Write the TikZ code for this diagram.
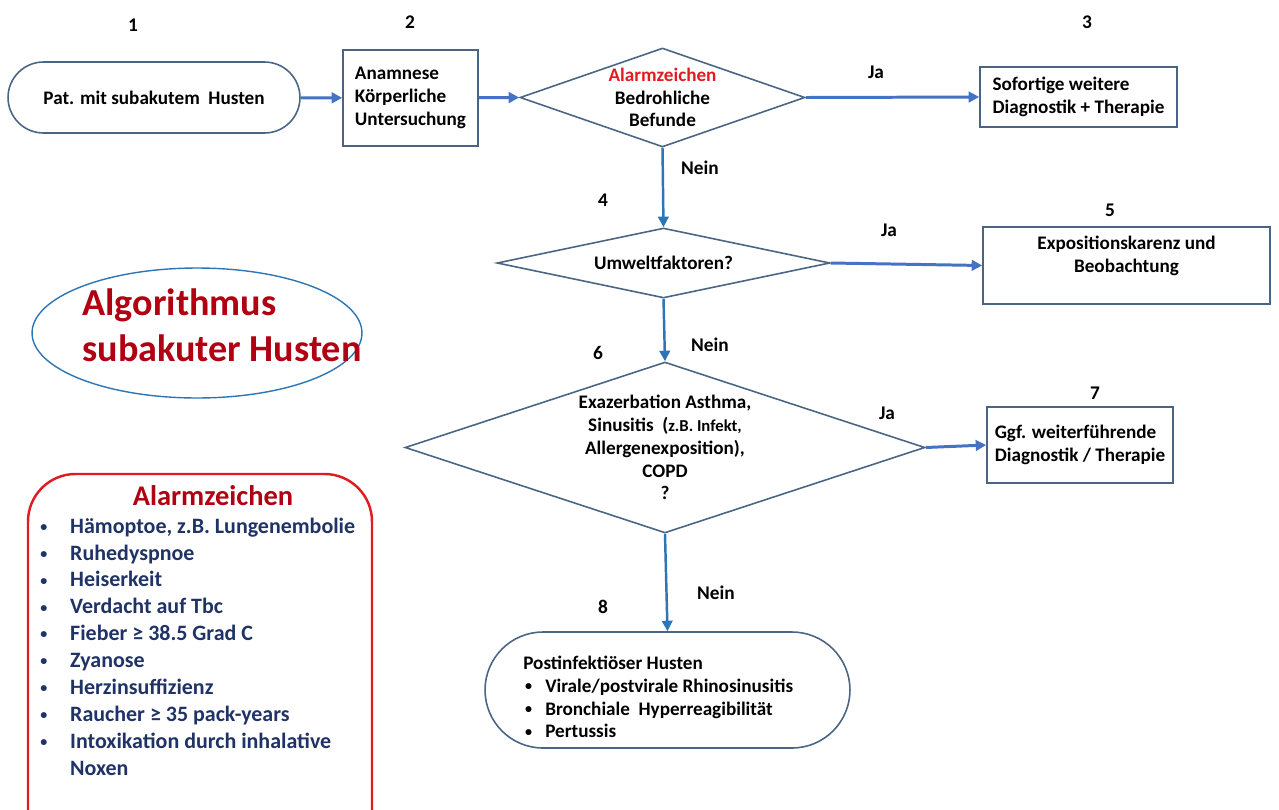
\documentclass[tikz,border=0pt]{standalone}
\usepackage{fontspec}
\setmainfont{Carlito}
\usepackage{tikz}
\usetikzlibrary{shapes.geometric,shapes.misc,arrows.meta}
\definecolor{frameblue}{HTML}{4A6584}
\definecolor{arrowblue}{HTML}{4472C4}
\definecolor{downblue}{HTML}{2E75B6}
\definecolor{titlered}{HTML}{B00012}
\definecolor{alarmred}{HTML}{E01B22}
\definecolor{listnavy}{HTML}{1F3366}
\newcommand{\smallbullet}{\raisebox{1pt}{\fontsize{8}{8}\selectfont\textbullet}}
\tikzset{
  box/.style={draw=frameblue, line width=0.9pt, rectangle, inner sep=0pt, font=\fontsize{10.9}{13}\selectfont\bfseries},
  startstop/.style={draw=frameblue, line width=0.9pt, rounded rectangle, inner sep=0pt, font=\fontsize{10.9}{13}\selectfont\bfseries},
  decision/.style={draw=frameblue, line width=0.9pt, diamond, inner sep=0pt},
  decisiontext/.style={align=center, inner sep=0pt, font=\fontsize{10.9}{13}\selectfont\bfseries},
  flow/.style={-{Triangle[length=6pt,width=6pt]}, draw=arrowblue, line width=1.7pt},
  flowdown/.style={-{Triangle[length=6pt,width=6pt]}, draw=downblue, line width=1.4pt},
  answer/.style={font=\fontsize{11}{13}\selectfont\bfseries},
  stepnum/.style={font=\fontsize{11}{13}\selectfont\bfseries}
}
\begin{document}
\begin{tikzpicture}[x=0.02cm, y=-0.02cm]
  \useasboundingbox (0,0) rectangle (1279,809);
  % step numbers
  \node[stepnum] (n1) at (133,25) {1};
  \node[stepnum] (n2) at (410,22) {2};
  \node[stepnum] (n3) at (1087,22) {3};
  \node[stepnum] (n4) at (603,200) {4};
  \node[stepnum] (n5) at (1110,210) {5};
  \node[stepnum] (n6) at (598,353) {6};
  \node[stepnum] (n7) at (1095,393) {7};
  \node[stepnum] (n8) at (603,607) {8};
  % main flow
  \node[startstop, minimum width=5.84cm, minimum height=1.42cm] (start) at (154,97.5) {Pat. mit subakutem\ \ Husten};
  \node[box, minimum width=2.7cm, minimum height=1.92cm, align=left] (exam) at (410.5,98) {Anamnese\\K\"orperliche\\Untersuchung};
  \node[decision, minimum width=5.7cm, minimum height=1.98cm] (alarm) at (662.5,97.5) {};
  \node[decisiontext] (alarmtext) at (alarm) {\textcolor{alarmred}{Alarmzeichen}\\Bedrohliche\\Befunde};
  \node[box, minimum width=3.94cm, minimum height=1.2cm, align=left] (urgent) at (1078.5,97) {Sofortige weitere\\Diagnostik + Therapie};
  \node[decision, minimum width=6.66cm, minimum height=1.4cm] (environ) at (663.5,263) {};
  \node[decisiontext] (environtext) at (environ) {Umweltfaktoren?};
  \node[box, minimum width=5.74cm, minimum height=1.54cm] (avoid) at (1126.5,265.5) {};
  \node[decisiontext] (avoidtext) at (1126.5,256) {Expositionskarenz und\\Beobachtung};
  \node[decision, minimum width=10.4cm, minimum height=3.42cm] (asthma) at (665,447.5) {};
  \node[decisiontext] (asthmatext) at (asthma) {Exazerbation Asthma,\\Sinusitis\ \ ({\fontsize{9.5}{13}\selectfont z.B. Infekt,}\\Allergenexposition),\\COPD\\?};
  \node[box, minimum width=3.72cm, minimum height=1.52cm, align=left] (further) at (1080,445) {Ggf. weiterf\"uhrende\\Diagnostik / Therapie};
  \node[startstop, minimum width=7.3cm, minimum height=2.32cm] (postinf) at (667.5,690) {};
  \node[anchor=north west, inner sep=0pt, font=\fontsize{10.9}{13}\selectfont\bfseries] (postinftext) at (523,653) {%
    \begin{tabular}{@{}l@{}l@{}}
      \multicolumn{2}{@{}l@{}}{Postinfekti\"oser Husten}\\
      \makebox[12.5pt][l]{\hspace{1pt}\smallbullet} & Virale/postvirale Rhinosinusitis\\
      \makebox[12.5pt][l]{\hspace{1pt}\smallbullet} & Bronchiale\ \ Hyperreagibilit\"at\\
      \makebox[12.5pt][l]{\hspace{1pt}\smallbullet} & Pertussis
    \end{tabular}};
  % connectors
  \draw[flow] (start) -- (exam);
  \draw[flow] (exam) -- (alarm.west);
  \draw[flow] (alarm.east) -- (urgent.west);
  \draw[flowdown] (alarm.south) -- (environ.north);
  \draw[flow] (environ.east) -- (avoid.west);
  \draw[flowdown] (environ.south) -- (asthma.north);
  \draw[flow] (asthma.east) -- (further.west);
  \draw[flowdown] (asthma.south) -- (postinf.north);
  \node[answer] (ja1) at (876,72) {Ja};
  \node[answer] (ja2) at (889,230) {Ja};
  \node[answer] (ja3) at (887,413) {Ja};
  \node[answer] (nein1) at (700,168) {Nein};
  \node[answer] (nein2) at (710,345) {Nein};
  \node[answer] (nein3) at (716,593) {Nein};
  % title
  \node[draw=downblue, line width=0.8pt, ellipse, minimum width=6.6cm, minimum height=2.6cm, inner sep=0pt] (title) at (197,333) {};
  \node[align=left, inner sep=0pt, text=titlered, font=\fontsize{21.7}{26}\selectfont\bfseries] (titletext) at (222,325) {Algorithmus\\subakuter Husten};
  % alarm signs
  \draw[alarmred, line width=1.4pt, rounded corners=0.95cm] (28,474) rectangle (372,860);
  \node[text=titlered, font=\fontsize{16.2}{18}\selectfont\bfseries] (alarmhead) at (213,496) {Alarmzeichen};
  \node[anchor=north west, inner sep=0pt, text=listnavy, font=\fontsize{12.5}{15.3}\selectfont\bfseries] (alarmlist) at (40,514) {%
    \begin{tabular}{@{}l@{}l@{}}
      \makebox[17pt][l]{\smallbullet} & H\"amoptoe, z.B. Lungenembolie\\
      \makebox[17pt][l]{\smallbullet} & Ruhedyspnoe\\
      \makebox[17pt][l]{\smallbullet} & Heiserkeit\\
      \makebox[17pt][l]{\smallbullet} & Verdacht auf Tbc\\
      \makebox[17pt][l]{\smallbullet} & Fieber ≥ 38.5 Grad\ C\\
      \makebox[17pt][l]{\smallbullet} & Zyanose\\
      \makebox[17pt][l]{\smallbullet} & Herzinsuffizienz\\
      \makebox[17pt][l]{\smallbullet} & Raucher ≥ 35 pack-years\\
      \makebox[17pt][l]{\smallbullet} & Intoxikation durch inhalative\\
                                      & Noxen
    \end{tabular}};
\end{tikzpicture}
\end{document}
